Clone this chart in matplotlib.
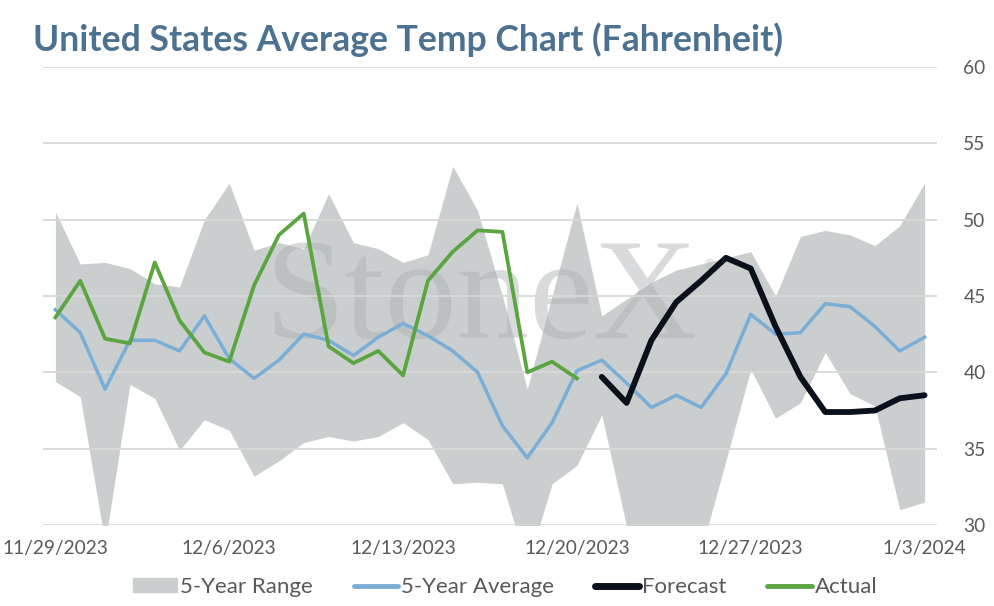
import numpy as np
import pandas as pd
import matplotlib
matplotlib.use('Agg')
import matplotlib.pyplot as plt
from matplotlib.patches import Patch
from matplotlib.lines import Line2D

nan = np.nan

dates = pd.date_range('2023-11-29', '2024-01-03', freq='D')

# 5-year range (high / low), 5-year average, actual and forecast, deg F
range_high = [50.5, 47.1, 47.2, 46.8, 45.8, 45.6, 50.0, 52.4, 48.0, 48.5, 48.1, 51.7,
              48.5, 48.1, 47.2, 47.7, 53.5, 50.6, 45.0, 38.9, 45.0, 51.1, 43.7, 44.8,
              45.9, 46.7, 47.1, 47.5, 47.9, 45.0, 48.9, 49.3, 49.0, 48.3, 49.6, 52.4]
range_low = [39.4, 38.4, 28.8, 39.2, 38.3, 34.9, 36.9, 36.2, 33.2, 34.2, 35.4, 35.8,
             35.5, 35.8, 36.7, 35.6, 32.7, 32.8, 32.7, 27.3, 32.7, 33.9, 37.2, 29.9,
             28.0, 27.5, 28.3, 34.2, 40.2, 37.0, 38.0, 41.3, 38.6, 37.8, 31.0, 31.5]
avg5 = [44.1, 42.6, 38.9, 42.1, 42.1, 41.4, 43.7, 40.9, 39.6, 40.8, 42.5, 42.1,
        41.1, 42.3, 43.2, 42.4, 41.4, 40.0, 36.5, 34.4, 36.7, 40.1, 40.8, 39.3,
        37.7, 38.5, 37.7, 39.9, 43.8, 42.5, 42.6, 44.5, 44.3, 43.0, 41.4, 42.3]
actual = [43.6, 46.0, 42.2, 41.9, 47.2, 43.4, 41.3, 40.7, 45.7, 49.0, 50.4, 41.7,
          40.6, 41.4, 39.8, 46.0, 47.9, 49.3, 49.2, 40.0, 40.7, 39.6, nan, nan,
          nan, nan, nan, nan, nan, nan, nan, nan, nan, nan, nan, nan]
forecast = [nan, nan, nan, nan, nan, nan, nan, nan, nan, nan, nan, nan,
            nan, nan, nan, nan, nan, nan, nan, nan, nan, nan, 39.7, 38.0,
            42.1, 44.6, 46.0, 47.5, 46.8, 43.0, 39.7, 37.4, 37.4, 37.5, 38.3, 38.5]

c_range = '#cbcecf'
c_avg = '#7aaed6'
c_fc = '#0a101c'
c_act = '#5aa540'
c_txt = '#595959'

plt.rcParams['font.family'] = ['Lato', 'DejaVu Sans']

fig = plt.figure(figsize=(9.94, 6.06), dpi=100)
ax = fig.add_axes([43 / 994, 1 - 525 / 606, (937 - 43) / 994, (525 - 67) / 606])

x = np.arange(len(dates))
ax.fill_between(x, range_low, range_high, color=c_range, lw=0, zorder=1)
ax.plot(x, avg5, color=c_avg, lw=2.5, zorder=4)
ax.plot(x, actual, color=c_act, lw=2.7, zorder=5)
ax.plot(x, forecast, color=c_fc, lw=4.2, zorder=6, solid_capstyle='round')

# watermark
ax.text(0.4905, 0.408, 'StoneX', transform=ax.transAxes, family='Liberation Serif',
        fontsize=104, color='#acafb1', alpha=0.45, ha='center', va='baseline', zorder=1.5)
ax.text(0.745, 0.565, '\u00ae', transform=ax.transAxes, family='DejaVu Sans',
        fontsize=10, color='#acafb1', alpha=0.5, ha='center', va='center', zorder=1.5)

ax.set_xlim(-0.5, len(dates) - 0.5)
ax.set_ylim(30, 60)
ax.set_yticks(range(30, 61, 5))
ax.yaxis.tick_right()
ax.grid(axis='y', color='#d9d9d9', lw=1.3)
ax.set_axisbelow(False)
for gl in ax.get_ygridlines():
    gl.set_zorder(2)
tick_idx = list(range(0, len(dates), 7))
ax.set_xticks(tick_idx)
ax.set_xticklabels([f'{d.month}/{d.day}/{d.year}' for d in dates[tick_idx]])
ax.tick_params(axis='both', length=0, labelsize=13.8, labelcolor=c_txt)
ax.tick_params(axis='y', pad=19)
ax.tick_params(axis='x', pad=11)
for s in ax.spines.values():
    s.set_visible(False)

fig.text(33 / 994, 1 - 40 / 606, 'United States Average Temp Chart (Fahrenheit)',
         fontsize=25.6, fontweight='bold', color='#4d7291', va='center', ha='left')

handles = [Patch(color=c_range),
           Line2D([], [], color=c_avg, lw=3.5, solid_capstyle='round'),
           Line2D([], [], color=c_fc, lw=5, solid_capstyle='round'),
           Line2D([], [], color=c_act, lw=3.5, solid_capstyle='round')]
labels = ['5-Year Range', '5-Year Average', 'Forecast', 'Actual']
fig.legend(handles, labels, loc='center', bbox_to_anchor=(0.508, 1 - 587 / 606), ncol=4,
           frameon=False, fontsize=16, labelcolor=c_txt, handlelength=2.0,
           handleheight=0.55, handletextpad=0.12, columnspacing=1.85)

fig.savefig('out.png', dpi=100, facecolor='white')
